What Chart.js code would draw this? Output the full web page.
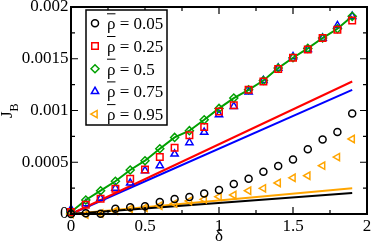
<!DOCTYPE html>
<html>
<head>
<meta charset="utf-8">
<script src="https://cdn.jsdelivr.net/npm/chart.js@4/dist/chart.umd.min.js"></script>
<style>
    html, body { margin: 0; padding: 0; background: #fff; }
    #wrap { width: 374px; height: 249px; }
</style>
</head>
<body>
<div id="wrap"><canvas id="myChart" width="374" height="249"></canvas></div>
<script>
/* data */
const delta = [0, 0.1, 0.2, 0.3, 0.4, 0.5, 0.6, 0.7, 0.8, 0.9, 1.0, 1.1, 1.2, 1.3, 1.4, 1.5, 1.6, 1.7, 1.8, 1.9];

const rho005 = [0, 0.000007, 0.000002, 0.00005, 0.000065, 0.000076, 0.000115, 0.000145, 0.000165, 0.000198,
    0.000233, 0.00029, 0.00034, 0.000408, 0.000464, 0.000526, 0.000625, 0.00072, 0.000792, 0.00097];
const rho025 = [0.00002, 0.00009, 0.000148, 0.000244, 0.00034, 0.00043, 0.00055, 0.00064, 0.00076, 0.00084,
    0.00099, 0.00105, 0.0012, 0.00128, 0.0014, 0.00151, 0.00159, 0.0017, 0.00178, 0.00187];
const rho05 = [0.00002, 0.000135, 0.000225, 0.000316, 0.000425, 0.000515, 0.00063, 0.00074, 0.000805, 0.00091,
    0.00102, 0.00112, 0.0012, 0.00129, 0.00141, 0.00151, 0.0016, 0.0017, 0.00179, 0.00191];
const rho075 = [0.000045, 0.0001, 0.000152, 0.00025, 0.0003, 0.00042, 0.000467, 0.00058, 0.00069, 0.00079,
    0.00096, 0.00104, 0.00118, 0.00129, 0.00141, 0.00152, 0.00159, 0.0017, 0.00182, 0.00191];
const rho095 = [0, -0.000005, 0.000005, 0.00003, 0.00005, 0.00006, 0.00008, 0.0001, 0.000126, 0.000142,
    0.000167, 0.000184, 0.000225, 0.000248, 0.0003, 0.00035, 0.00037, 0.000467, 0.00055, 0.000725];

/* straight lines (end points) */
const lineX = [0, 1.9];
const line005 = [0, 0.000204];
const line025 = [0, 0.00128];
const line075 = [0, 0.0012];
const line095 = [0, 0.000248];

const rhoLabels = ['0.05', '0.25', '0.5', '0.75', '0.95'];
const xTickLabels = ['0', '0.5', '1', '1.5', '2'];
const yTickLabels = ['0', '0.0005', '0.001', '0.0015', '0.002'];

const serif = '"Liberation Serif", "DejaVu Serif", serif';

function pts(xs, ys) {
    return xs.map((x, i) => ({ x: x, y: ys[i] }));
}

function markers(label, ys, color, style, radius, rotation, showLine) {
    return {
        label: label,
        data: pts(delta, ys),
        showLine: !!showLine,
        borderColor: color,
        borderWidth: 2,
        backgroundColor: 'rgba(0,0,0,0)',
        pointStyle: style,
        pointRadius: radius,
        pointRotation: rotation,
        pointBorderWidth: 1.5,
        pointBorderColor: color,
        pointBackgroundColor: 'rgba(0,0,0,0)',
        clip: false,
        isMarker: true
    };
}

function straight(ys, color) {
    return {
        label: '',
        data: pts(lineX, ys),
        showLine: true,
        borderColor: color,
        borderWidth: 2,
        pointRadius: 0,
        clip: false
    };
}

/* inward ticks on all four sides + frame */
const frameTicks = {
    id: 'frameTicks',
    afterDatasetsDraw(chart) {
        const { ctx, chartArea: a, scales: { x, y } } = chart;
        ctx.save();
        ctx.strokeStyle = '#000';
        ctx.lineWidth = 1.2;
        ctx.beginPath();
        const xv = x.ticks.map(t => t.value);
        xv.forEach((v, i) => {
            const px = x.getPixelForValue(v);
            ctx.moveTo(px, a.bottom); ctx.lineTo(px, a.bottom - 7);
            ctx.moveTo(px, a.top); ctx.lineTo(px, a.top + 7);
            if (i < xv.length - 1) {
                const m = x.getPixelForValue((v + xv[i + 1]) / 2);
                ctx.moveTo(m, a.bottom); ctx.lineTo(m, a.bottom - 4);
                ctx.moveTo(m, a.top); ctx.lineTo(m, a.top + 4);
            }
        });
        const yv = y.ticks.map(t => t.value);
        yv.forEach((v, i) => {
            const py = y.getPixelForValue(v);
            ctx.moveTo(a.left, py); ctx.lineTo(a.left + 7, py);
            ctx.moveTo(a.right, py); ctx.lineTo(a.right - 7, py);
            if (i < yv.length - 1) {
                const m = y.getPixelForValue((v + yv[i + 1]) / 2);
                ctx.moveTo(a.left, m); ctx.lineTo(a.left + 4, m);
                ctx.moveTo(a.right, m); ctx.lineTo(a.right - 4, m);
            }
        });
        ctx.stroke();
        ctx.lineWidth = 2;
        ctx.strokeRect(a.left, a.top, a.right - a.left, a.bottom - a.top);
        ctx.restore();
    }
};

/* boxed legend with overlined rho, and the J_B axis title */
const boxLegend = {
    id: 'boxLegend',
    afterDraw(chart) {
        const ctx = chart.ctx;
        const a = chart.chartArea;
        const bx = a.left + 15, by = a.top + 3, bw = 81, bh = 115;
        ctx.save();
        ctx.fillStyle = '#fff';
        ctx.fillRect(bx, by, bw, bh);
        ctx.strokeStyle = '#000';
        ctx.lineWidth = 1.5;
        ctx.strokeRect(bx, by, bw, bh);

        const sets = chart.data.datasets.filter(d => d.isMarker);
        sets.forEach((ds, i) => {
            const cy = by + 13.3 + i * 22.7;
            ctx.strokeStyle = ds.pointBorderColor;
            ctx.fillStyle = 'rgba(0,0,0,0)';
            ctx.lineWidth = 1.5;
            Chart.helpers.drawPoint(ctx, {
                pointStyle: ds.pointStyle,
                radius: ds.pointRadius,
                rotation: ds.pointRotation,
                borderWidth: 1.5
            }, bx + 9, cy);

            ctx.fillStyle = '#000';
            ctx.font = '17px ' + serif;
            ctx.textBaseline = 'alphabetic';
            const tx = bx + 21, base = cy + 6;
            ctx.fillText('\u03C1 = ' + ds.label, tx, base);
            const w = ctx.measureText('\u03C1').width;
            ctx.strokeStyle = '#000';
            ctx.lineWidth = 1;
            ctx.beginPath();
            ctx.moveTo(tx, base - 15.5);
            ctx.lineTo(tx + w, base - 15.5);
            ctx.stroke();
        });

        ctx.translate(12, 118);
        ctx.rotate(-Math.PI / 2);
        ctx.fillStyle = '#000';
        ctx.font = '17px ' + serif;
        ctx.fillText('J', 0, 0);
        const jw = ctx.measureText('J').width;
        ctx.font = '12px ' + serif;
        ctx.fillText('B', jw, 6);
        ctx.restore();
    }
};

const ctx = document.getElementById('myChart');

new Chart(ctx, {
    type: 'scatter',
    data: {
        datasets: [
            markers(rhoLabels[0], rho005, '#000000', 'circle', 3.5, 0),
            markers(rhoLabels[1], rho025, '#ff0000', 'rect', 4.6, 0),
            markers(rhoLabels[2], rho05, '#00a000', 'rectRot', 4, 0, true),
            markers(rhoLabels[3], rho075, '#0000ff', 'triangle', 4.2, 0),
            markers(rhoLabels[4], rho095, '#ffa500', 'triangle', 4.2, -90),
            straight(line005, '#000000'),
            straight(line025, '#ff0000'),
            straight(line075, '#0000ff'),
            straight(line095, '#ffa500')
        ]
    },
    options: {
        responsive: false,
        animation: false,
        events: [],
        layout: { padding: { top: 7, right: 7, left: 0, bottom: 0 } },
        plugins: {
            legend: { display: false },
            tooltip: { enabled: false }
        },
        scales: {
            x: {
                type: 'linear',
                min: 0,
                max: 2,
                grid: { display: false, drawTicks: false },
                border: { display: false },
                ticks: {
                    stepSize: 0.5,
                    autoSkip: false,
                    maxRotation: 0,
                    padding: 2,
                    color: '#000',
                    font: { family: serif, size: 17 },
                    callback: (v, i) => xTickLabels[i]
                },
                title: {
                    display: true,
                    text: '\u03B4',
                    color: '#000',
                    font: { family: serif, size: 17 },
                    padding: { top: 0, bottom: 2 }
                },
                afterFit: s => { s.height = 35; s.paddingLeft = 0; s.paddingRight = 0; }
            },
            y: {
                type: 'linear',
                min: 0,
                max: 0.002,
                grid: { display: false, drawTicks: false },
                border: { display: false },
                ticks: {
                    stepSize: 0.0005,
                    autoSkip: false,
                    padding: 2.5,
                    color: '#000',
                    font: { family: serif, size: 17 },
                    callback: (v, i) => yTickLabels[i]
                },
                afterFit: s => { s.width = 71; s.paddingTop = 0; s.paddingBottom = 0; }
            }
        }
    },
    plugins: [frameTicks, boxLegend]
});
</script>
</body>
</html>
